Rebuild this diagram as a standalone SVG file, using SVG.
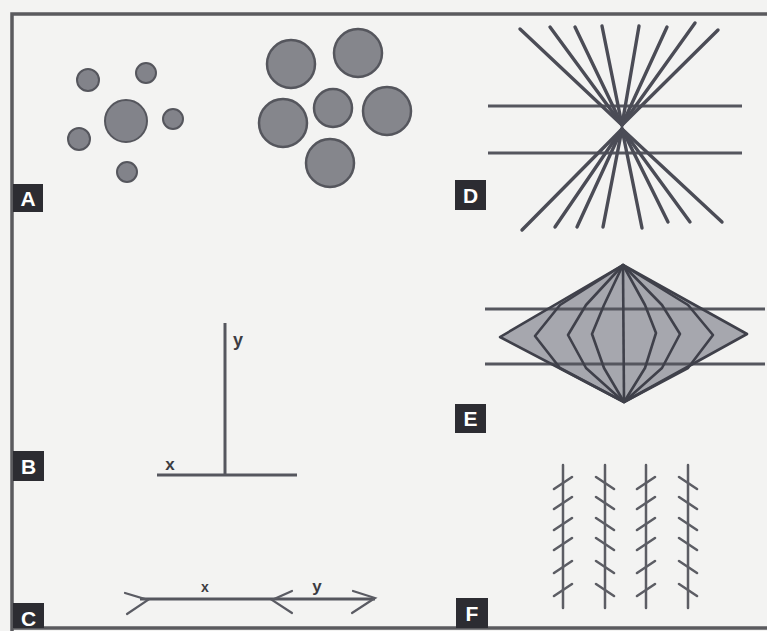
<svg xmlns="http://www.w3.org/2000/svg" width="767" height="631" viewBox="0 0 767 631">
<style>
.bg{fill:#f3f3f2}
.frame{stroke:#5a5a5e;stroke-width:3.5;fill:none}
.cs{fill:#82838a;stroke:#55565d;stroke-width:2}
.cb{fill:#85868c;stroke:#55565d;stroke-width:2.5}
.ln{stroke:#4b4c56;stroke-width:3.4;fill:none;stroke-linecap:round}
.hl{stroke:#55565e;stroke-width:3;fill:none}
.th{stroke:#5a5b63;stroke-width:2.2;fill:none;stroke-linecap:round}
.lb{fill:#2c2c32}
.lt{fill:#ffffff;font-family:"Liberation Sans",Arial,sans-serif;font-weight:bold;font-size:21px;text-anchor:middle}
.ax{fill:#3c3c42;font-family:"Liberation Sans",Arial,sans-serif;font-weight:bold;text-anchor:middle}
.sp{stroke:#5c5d64;stroke-width:2.5;fill:none;stroke-linecap:round}
.ep{stroke:#3f404a;stroke-width:2.6;fill:none;stroke-linejoin:round}
</style>
<rect class="bg" x="0" y="0" width="767" height="631"/>
<g id="frame">
<path class="frame" d="M12,631 V14 H767"/>
<path class="frame" d="M12,628 H767"/>
</g>
<g id="panelA">
<circle class="cs" cx="88" cy="80" r="11"/>
<circle class="cs" cx="146" cy="73" r="10"/>
<circle class="cs" cx="126" cy="121" r="21"/>
<circle class="cs" cx="173" cy="119" r="10"/>
<circle class="cs" cx="79" cy="139" r="11"/>
<circle class="cs" cx="127" cy="172" r="10"/>
<circle class="cb" cx="291" cy="64" r="24"/>
<circle class="cb" cx="358" cy="53" r="24"/>
<circle class="cb" cx="283" cy="123" r="24"/>
<circle class="cb" cx="333" cy="108" r="19"/>
<circle class="cb" cx="387" cy="111" r="24"/>
<circle class="cb" cx="330" cy="163" r="24"/>
</g>
<g id="labelA"><rect class="lb" x="13" y="184" width="30" height="28"/><text class="lt" x="28" y="206">A</text></g>
<g id="panelD">
<line class="hl" x1="488" y1="106" x2="742" y2="106"/>
<line class="hl" x1="488" y1="153" x2="742" y2="153"/>
<g class="ln">
<line x1="520" y1="29" x2="622" y2="125"/>
<line x1="550" y1="27" x2="622" y2="125"/>
<line x1="575" y1="27" x2="622" y2="125"/>
<line x1="602" y1="26" x2="622" y2="125"/>
<line x1="639" y1="26" x2="622" y2="125"/>
<line x1="667" y1="27" x2="622" y2="125"/>
<line x1="695" y1="23" x2="622" y2="125"/>
<line x1="718" y1="30" x2="622" y2="125"/>
<line x1="522" y1="230" x2="622" y2="129"/>
<line x1="555" y1="227" x2="622" y2="129"/>
<line x1="577" y1="227" x2="622" y2="129"/>
<line x1="603" y1="227" x2="622" y2="129"/>
<line x1="642" y1="228" x2="622" y2="129"/>
<line x1="668" y1="222" x2="622" y2="129"/>
<line x1="690" y1="222" x2="622" y2="129"/>
<line x1="722" y1="222" x2="622" y2="129"/>
</g>
</g>
<g id="labelD"><rect class="lb" x="455" y="180" width="31" height="30"/><text class="lt" x="470.5" y="203">D</text></g>
<g id="panelE">
<polygon points="623,265 747,334 624,402 500,337" fill="#a6a7ae"/>
<line class="hl" x1="485" y1="309" x2="765" y2="309"/>
<line class="hl" x1="485" y1="364" x2="765" y2="364"/>
<polygon class="ep" points="623,265 747,334 624,402 500,337"/>
<polygon class="ep" points="623,265 688,305 713,335 688,368 624,402 560,368 535,336 560,305"/>
<polygon class="ep" points="623,265 662,305 680,334 662,368 624,402 586,368 568,335 586,305"/>
<polygon class="ep" points="623,265 645,305 656,333 645,368 624,402 604,368 592,334 604,305"/>
<line class="ep" x1="623" y1="265" x2="624" y2="402"/>
</g>
<g id="labelE"><rect class="lb" x="455" y="404" width="31" height="29"/><text class="lt" x="470.5" y="426">E</text></g>
<g id="panelB">
<line class="hl" x1="225" y1="323" x2="225" y2="475"/>
<line class="hl" x1="157" y1="475" x2="297" y2="475"/>
<text class="ax" x="238" y="346" font-size="18">y</text>
<text class="ax" x="170" y="470" font-size="17">x</text>
</g>
<g id="labelB"><rect class="lb" x="13" y="451" width="31" height="30"/><text class="lt" x="28.5" y="474">B</text></g>
<g id="panelC">
<line class="hl" x1="140" y1="599" x2="375" y2="599"/>
<polyline class="th" points="125,593 148,600 127,614"/>
<polyline class="th" points="292,591 272,600 292,613"/>
<polyline class="th" points="353,591 375,598 352,613"/>
<text class="ax" x="205" y="592" font-size="14">x</text>
<text class="ax" x="317" y="592" font-size="17">y</text>
</g>
<g id="labelC"><rect class="lb" x="13" y="603" width="31" height="25"/><text class="lt" x="28.5" y="626">C</text></g>
<g id="panelF" class="sp">
<line x1="563" y1="465" x2="563" y2="608"/>
<line x1="605" y1="465" x2="605" y2="608"/>
<line x1="646" y1="465" x2="646" y2="608"/>
<line x1="688" y1="465" x2="688" y2="608"/>
<path d="M554,489 L572,477 M554,509 L572,497 M554,530 L572,518 M554,550 L572,538 M554,573 L572,561 M554,596 L572,584"/>
<path d="M596,477 L614,489 M596,497 L614,509 M596,518 L614,530 M596,538 L614,550 M596,561 L614,573 M596,584 L614,596"/>
<path d="M637,489 L655,477 M637,509 L655,497 M637,530 L655,518 M637,550 L655,538 M637,573 L655,561 M637,596 L655,584"/>
<path d="M679,477 L697,489 M679,497 L697,509 M679,518 L697,530 M679,538 L697,550 M679,561 L697,573 M679,584 L697,596"/>
</g>
<g id="labelF"><rect class="lb" x="456" y="598" width="32" height="30"/><text class="lt" x="472" y="621">F</text></g>
</svg>
